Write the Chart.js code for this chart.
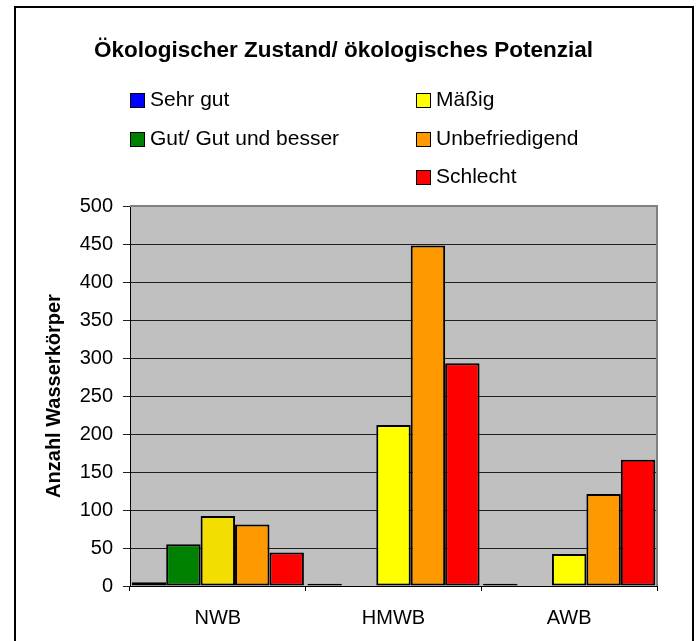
<!DOCTYPE html>
<html>
<head>
<meta charset="utf-8">
<script src="https://cdn.jsdelivr.net/npm/chart.js@4.4.1/dist/chart.umd.min.js"></script>
<style>
  html, body { margin: 0; padding: 0; background: #fff; }
  #wrap { position: relative; width: 698px; height: 641px; overflow: hidden; font-family: "Liberation Sans", Arial, sans-serif; }
  #frame { position: absolute; left: 14px; top: 6px; width: 676px; height: 700px; border: 2px solid #000; pointer-events: none; }
  .lg { position: absolute; font-size: 21px; color: #000; white-space: nowrap; line-height: 24px; }
  .bx { position: absolute; width: 13px; height: 13px; border: 1px solid #000; }
</style>
</head>
<body>
<div id="wrap">
  <canvas id="c" width="698" height="641"></canvas>
  <div id="frame"></div>
</div>
<script>
const categories = ["NWB", "HMWB", "AWB"];
const seriesNames = ["Sehr gut", "Gut/ Gut und besser", "Mäßig", "Unbefriedigend", "Schlecht"];
const sehrGut = [5, 3, 3];
const gut = [55, 0, 0];
const maessig = [92, 212, 42];
const unbefriedigend = [81, 448, 121];
const schlecht = [44, 293, 166];
const yTicks = [0, 50, 100, 150, 200, 250, 300, 350, 400, 450, 500];
const chartTitle = "Ökologischer Zustand/ ökologisches Potenzial";
const yAxisTitle = "Anzahl Wasserkörper";

const seriesValues = [sehrGut, gut, maessig, unbefriedigend, schlecht];
const seriesColors = ["#0000FF", "#008000", "#FFFF00", "#FF9900", "#FF0000"];
// the NWB "Mäßig" bar is drawn in a darker yellow in the original
const barColors = [
  ["#0000FF", "#0000FF", "#0000FF"],
  ["#008000", "#008000", "#008000"],
  ["#F2DE00", "#FFFF00", "#FFFF00"],
  ["#FF9900", "#FF9900", "#FF9900"],
  ["#FF0000", "#FF0000", "#FF0000"]
];

const plotBg = {
  id: 'plotBg',
  beforeDraw(chart) {
    const a = chart.chartArea, ctx = chart.ctx;
    ctx.save();
    ctx.fillStyle = '#C0C0C0';
    ctx.fillRect(a.left, a.top, a.right - a.left, a.bottom - a.top);
    ctx.restore();
  },
  beforeDatasetsDraw(chart) {
    const a = chart.chartArea, ctx = chart.ctx;
    ctx.save();
    ctx.strokeStyle = '#808080';
    ctx.lineWidth = 2;
    ctx.beginPath();
    ctx.moveTo(a.left, a.top);
    ctx.lineTo(a.right, a.top);
    ctx.lineTo(a.right, a.bottom);
    ctx.stroke();
    ctx.restore();
  }
};

const font = "'Liberation Sans', Arial, sans-serif";

new Chart(document.getElementById('c'), {
  type: 'bar',
  data: {
    labels: categories,
    datasets: seriesNames.map((n, i) => ({
      label: n,
      data: seriesValues[i],
      backgroundColor: barColors[i],
      borderColor: '#000',
      borderWidth: 2,
      borderSkipped: false,
      categoryPercentage: 0.98,
      barPercentage: 1.0
    }))
  },
  options: {
    responsive: false,
    animation: false,
    devicePixelRatio: 1,
    layout: { padding: { left: 30, right: 41, top: 0, bottom: 15 } },
    plugins: {
      legend: { display: false },
      tooltip: { enabled: false },
      title: {
        display: true,
        text: chartTitle,
        color: '#000',
        font: { family: font, size: 22.5, weight: 'bold', lineHeight: 1.2 },
        padding: { top: 37.2, bottom: 141.8 }
      }
    },
    scales: {
      x: {
        offset: true,
        grid: { display: true, drawOnChartArea: false, drawTicks: true, tickLength: 5, color: '#000', offset: true },
        border: { display: true, color: '#000', width: 1 },
        ticks: { color: '#000', padding: 15, font: { family: font, size: 20 } },
        afterFit(s) { s.height = 40; }
      },
      y: {
        min: 0, max: 500,
        afterBuildTicks(s) { s.ticks = yTicks.map(v => ({ value: v })); },
        grid: { color: '#202020', lineWidth: 1, tickLength: 7, drawTicks: true },
        border: { display: true, color: '#000', width: 1 },
        ticks: { color: '#000', padding: 10, font: { family: font, size: 20 } },
        title: {
          display: true, text: yAxisTitle, color: '#000',
          font: { family: font, size: 20, weight: 'bold', lineHeight: 1.2 },
          padding: { top: 12, bottom: 0 }
        },
        afterFit(s) { s.width = 100; }
      }
    }
  },
  plugins: [plotBg]
});

// legend (two columns, column-major like the original)
const legendColumns = [[0, 1], [2, 3, 4]];
const legendColX = [130, 416];
const legendRowBaseline = [106.7, 145.2, 183.7];
const wrap = document.getElementById('wrap');
legendColumns.forEach((col, ci) => {
  col.forEach((si, ri) => {
    const b = legendRowBaseline[ri];
    const box = document.createElement('div');
    box.className = 'bx';
    box.style.left = legendColX[ci] + 'px';
    box.style.top = (b - 13.5) + 'px';
    box.style.background = seriesColors[si];
    wrap.appendChild(box);
    const d = document.createElement('div');
    d.className = 'lg';
    d.style.left = (legendColX[ci] + 20) + 'px';
    d.style.top = (b - 19.3) + 'px';
    d.textContent = seriesNames[si];
    wrap.appendChild(d);
  });
});
</script>
</body>
</html>
